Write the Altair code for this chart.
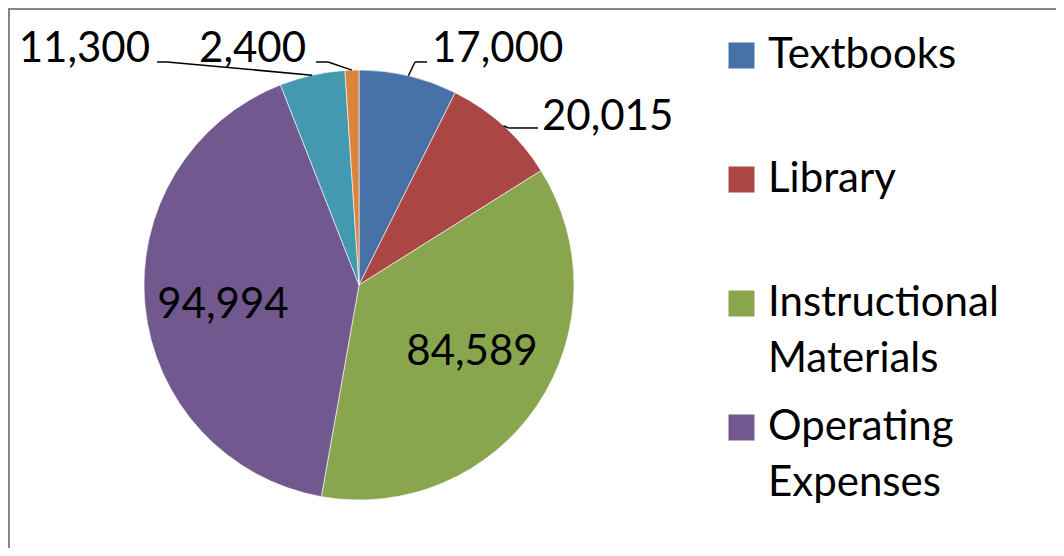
import altair as alt
import pandas as pd

# ---- data ----
categories = ["Textbooks", "Library", "Instructional Materials", "Operating Expenses", "Other 1", "Other 2"]
values = [17000, 20015, 84589, 94994, 11300, 2400]
value_labels = ["17,000", "20,015", "84,589", "94,994", "11,300", "2,400"]
colors = ["#4672A8", "#AA4643", "#89A54E", "#71588F", "#4399B0", "#DB843D"]
legend_items = ["Textbooks", "Library", "Instructional Materials", "Operating Expenses"]
legend_text = ["Textbooks", "Library", "Instructional|Materials", "Operating|Expenses"]

# ---- layout / style constants ----
W, H = 1048, 540
CX, CY, R = 351, 277, 215
R_IN = 133
FONT = "Lato"
FS = 42
LEG_SX, LEG_Y0, LEG_PITCH = 733.5, 47.5, 124
LEG_TX, LEG_TOP0, LEG_LH = 760, 27, 56

# label placement relative to the slice's anchor point:
# kind, align, text dx, text dy, elbow dx, elbow dy, end dx, end dy
label_layout = {
    "Textbooks": ("out", "left", 23.6, -13.8, 6.6, -13.8, 18.6, -13.8),
    "Library": ("out", "left", 38.5, 4.2, 5.0, 2.2, 34.5, 2.2),
    "Instructional Materials": ("in", "center", 2.7, 5.6, 0, 0, 0, 0),
    "Operating Expenses": ("in", "center", -3.7, 19.8, 0, 0, 0, 0),
    "Other 1": ("out", "right", -162.1, -13.2, -145.1, -13.2, -155.1, -13.2),
    "Other 2": ("out", "right", -45.9, -8.1, -23.9, -8.1, -35.9, -8.1),
}

rows = []
for i, (c, v, lab) in enumerate(zip(categories, values, value_labels)):
    kind, align, tdx, tdy, bdx, bdy, edx, edy = label_layout[c]
    rows.append(dict(category=c, value=v, label=lab, order=i, kind=kind, align=align,
                     tdx=tdx, tdy=tdy, bdx=bdx, bdy=bdy, edx=edx, edy=edy))
df = pd.DataFrame(rows)

xs = alt.Scale(domain=[0, W], nice=False, zero=False)
ys = alt.Scale(domain=[0, H], nice=False, zero=False, reverse=True)
cscale = alt.Scale(domain=categories, range=colors)

pie = alt.Chart(df).mark_arc(outerRadius=R, stroke="white", strokeWidth=0.6).encode(
    theta=alt.Theta("value:Q", stack=True),
    order=alt.Order("order:Q"),
    color=alt.Color("category:N", scale=cscale, legend=None),
    x=alt.value(CX),
    y=alt.value(CY),
)

base = (
    alt.Chart(df)
    .transform_joinaggregate(total="sum(value)")
    .transform_window(cum="sum(value)", sort=[alt.SortField("order")], frame=[None, 0])
    .transform_calculate(mid="2*PI*(datum.cum - datum.value/2)/datum.total")
    .transform_calculate(rr=f"datum.kind == 'out' ? {R} : {R_IN}")
    .transform_calculate(
        px=f"{CX} + datum.rr*sin(datum.mid)",
        py=f"{CY} - datum.rr*cos(datum.mid)",
    )
    .transform_calculate(
        tx="datum.px + datum.tdx",
        ty="datum.py + datum.tdy",
        bx="datum.px + datum.bdx",
        by="datum.py + datum.bdy",
        qx="datum.px + datum.edx",
        qy="datum.py + datum.edy",
    )
)


def text_layer(align):
    return base.transform_filter(f"datum.align == '{align}'").mark_text(
        align=align, baseline="alphabetic", font=FONT, fontSize=FS, color="black"
    ).encode(
        x=alt.X("tx:Q", scale=xs, axis=None),
        y=alt.Y("ty:Q", scale=ys, axis=None),
        text="label:N",
    )


leader1 = base.transform_filter("datum.kind == 'out'").mark_rule(color="black", strokeWidth=1.5).encode(
    x=alt.X("px:Q", scale=xs, axis=None), y=alt.Y("py:Q", scale=ys, axis=None),
    x2="bx:Q", y2="by:Q",
)
leader2 = base.transform_filter("datum.kind == 'out'").mark_rule(color="black", strokeWidth=1.5).encode(
    x=alt.X("bx:Q", scale=xs, axis=None), y=alt.Y("by:Q", scale=ys, axis=None),
    x2="qx:Q", y2="qy:Q",
)

# legend (only the first four series are shown, as in the original)
leg_df = pd.DataFrame({"item": legend_items, "text": legend_text, "idx": list(range(len(legend_items)))})
leg_base = alt.Chart(leg_df).transform_calculate(
    sx=f"{LEG_SX}",
    sy=f"{LEG_Y0} + datum.idx*{LEG_PITCH}",
    lx=f"{LEG_TX}",
    ly=f"{LEG_TOP0} + datum.idx*{LEG_PITCH}",
)
leg_sq = leg_base.mark_square(size=676, opacity=1).encode(
    x=alt.X("sx:Q", scale=xs, axis=None),
    y=alt.Y("sy:Q", scale=ys, axis=None),
    color=alt.Color("item:N", scale=cscale, legend=None),
)
leg_txt = leg_base.mark_text(
    align="left", baseline="top", font=FONT, fontSize=FS, lineHeight=LEG_LH, lineBreak="|", color="black"
).encode(
    x=alt.X("lx:Q", scale=xs, axis=None),
    y=alt.Y("ly:Q", scale=ys, axis=None),
    text="text:N",
)

border_df = pd.DataFrame({"a": [0]})
border_left = alt.Chart(border_df).mark_rule(color="#868686", strokeWidth=2).encode(
    x=alt.value(1), y=alt.value(0), y2=alt.value(H)
)
border_top = alt.Chart(border_df).mark_rule(color="#868686", strokeWidth=2).encode(
    x=alt.value(0), x2=alt.value(W), y=alt.value(1)
)

chart = alt.layer(
    border_left, border_top, pie, leader1, leader2,
    text_layer("left"), text_layer("right"), text_layer("center"),
    leg_sq, leg_txt,
).properties(
    width=W, height=H, padding=0, autosize=alt.AutoSizeParams(type="none"), background="white"
).configure_view(stroke=None)

chart.save("out.html", embed_options={"renderer": "svg", "actions": False})
